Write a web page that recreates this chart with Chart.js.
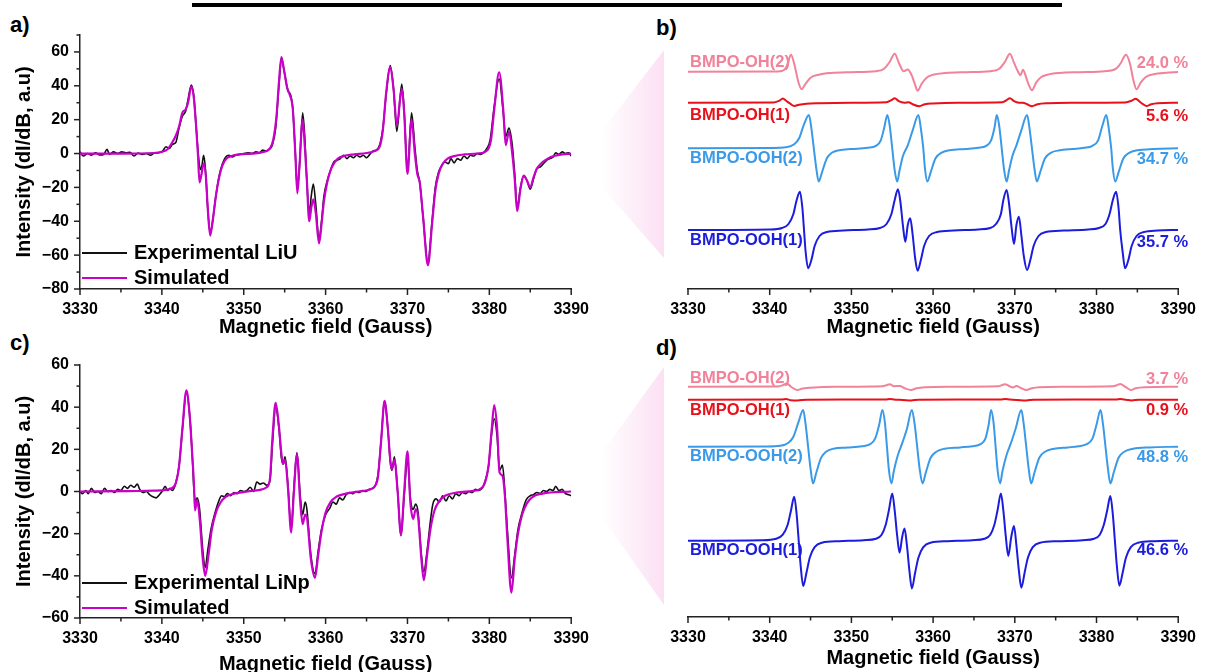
<!DOCTYPE html>
<html>
<head>
<meta charset="utf-8">
<script src="https://cdn.jsdelivr.net/npm/chart.js@4.4.1/dist/chart.umd.min.js"></script>
<style>
  html, body { margin:0; padding:0; background:#fff; width:1207px; height:672px; overflow:hidden; position:relative; font-family:"Liberation Sans", Arial, sans-serif; }
  canvas { position:absolute; }
  .lbl { position:absolute; font-weight:bold; font-size:22px; line-height:22px; color:#000; }
  .topline { position:absolute; left:192px; top:3px; width:870px; height:4px; background:#000; }
  .tri { position:absolute; background:linear-gradient(to right, #ffffff 0%, #fbe0f4 100%); }
</style>
</head>
<body>
<div class="topline"></div>
<div class="tri" id="triB" style="left:600px;top:50px;width:64px;height:208px;clip-path:polygon(0 40%, 100% 0, 100% 100%, 0 65%);"></div>
<div class="tri" id="triD" style="left:600px;top:367px;width:64px;height:238px;clip-path:polygon(0 37%, 100% 0, 100% 100%, 0 62%);"></div>
<div class="lbl" style="left:10px;top:14px;">a)</div>
<div class="lbl" style="left:656px;top:17px;">b)</div>
<div class="lbl" style="left:10px;top:332px;">c)</div>
<div class="lbl" style="left:656px;top:337px;">d)</div>
<canvas id="cA" width="600" height="345" style="left:0;top:0;"></canvas>
<canvas id="cB" width="607" height="345" style="left:600px;top:0;"></canvas>
<canvas id="cC" width="600" height="360" style="left:0;top:320px;"></canvas>
<canvas id="cD" width="607" height="352" style="left:600px;top:320px;"></canvas>
<script>
// ---------------- DATA ----------------
const fieldRange = [3330, 3390];
const yRangeA = [-80, 70];
const yRangeC = [-60, 60];

// Panel a : experimental LiU and simulated spectrum  [field (G), intensity]
const expLiU = [[3330,1],[3330.4,-1.5],[3330.9,0],[3331.4,-1],[3331.9,0.5],[3332.4,-0.8],[3332.9,-0.5],[3333.3,2.5],[3333.6,-0.5],[3334.1,1],[3334.6,0],[3335.1,1],[3335.6,0.5],[3336.1,0.8],[3336.6,-1.5],[3337.1,0.3],[3337.6,-0.5],[3338.1,0],[3338.6,-1],[3339.1,0.3],[3339.6,0.5],[3340.1,1.5],[3340.5,4],[3340.9,3],[3341.3,5.5],[3341.7,6.5],[3342.1,15],[3342.5,22],[3342.9,25],[3343.2,32],[3343.6,40.5],[3343.9,34],[3344.2,15],[3344.5,-3],[3344.7,-9.5],[3344.9,-7],[3345.1,-1],[3345.3,-8],[3345.6,-32],[3345.9,-47],[3346.2,-40],[3346.6,-25],[3347,-13],[3347.4,-6],[3347.8,-2],[3348.2,-1],[3348.6,-2],[3349,-1],[3349.5,-0.5],[3350,0],[3350.5,0.5],[3351,0],[3351.5,1],[3351.9,0.5],[3352.3,2],[3352.7,1.5],[3353.1,2.5],[3353.5,5],[3353.9,15],[3354.3,40],[3354.6,56],[3355,47],[3355.4,37],[3355.7,35],[3356,26],[3356.3,0],[3356.55,-20],[3356.8,-8],[3357.2,24],[3357.45,10],[3357.7,-15],[3358,-35],[3358.25,-25],[3358.5,-18],[3358.8,-30],[3359.2,-51],[3359.5,-40],[3359.8,-25],[3360.2,-16],[3360.6,-10],[3361,-5],[3361.4,-4],[3361.8,-3],[3362.2,-1],[3362.6,-3],[3363,-1.5],[3363.4,-2.5],[3363.8,-1],[3364.2,-2],[3364.6,-1],[3365,-2.5],[3365.4,-0.5],[3365.8,1.5],[3366.2,2],[3366.6,5],[3367,15],[3367.4,35],[3367.9,52],[3368.3,38],[3368.7,13],[3369.3,41],[3369.6,25],[3370,-10],[3370.5,24],[3370.9,4],[3371.2,-10],[3371.5,-17],[3371.9,-37],[3372.5,-64],[3373,-40],[3373.4,-20],[3373.8,-11],[3374.2,-7],[3374.6,-5],[3375,-6],[3375.3,-3],[3375.7,-5.5],[3376.1,-3],[3376.5,-4],[3376.9,-1.5],[3377.3,-3],[3377.7,-1],[3378.1,-1.5],[3378.5,0],[3378.9,-0.5],[3379.3,0.5],[3379.7,3],[3380.1,8],[3380.6,28],[3381.2,44],[3381.7,24],[3382,10],[3382.4,15],[3382.8,5],[3383.1,-12],[3383.4,-32],[3383.8,-20],[3384.2,-13],[3384.6,-16],[3385,-21],[3385.4,-15],[3385.8,-9],[3386.2,-8],[3386.6,-6],[3387,-4],[3387.4,-3],[3387.8,-2],[3388.1,0.5],[3388.5,-0.5],[3388.9,1],[3389.3,0],[3389.7,0.5],[3390,-1.5]];
const simLiU = [[3330,0],[3335,0],[3339,0.3],[3340,1],[3340.7,2.5],[3341.2,6],[3341.7,10.5],[3342.1,16],[3342.5,24],[3342.9,26],[3343.2,30],[3343.6,39.5],[3343.9,33],[3344.2,15],[3344.4,0],[3344.6,-17],[3344.85,-12],[3345.1,-6],[3345.4,-15],[3345.6,-32],[3345.9,-48.5],[3346.2,-40],[3346.6,-25],[3347,-14],[3347.4,-7],[3347.9,-3],[3348.5,-1.5],[3349.5,-0.5],[3351,0],[3352.5,1],[3353.2,3],[3353.6,8],[3354,22],[3354.3,42],[3354.6,57],[3354.9,50],[3355.3,39],[3355.6,35],[3356,26],[3356.3,0],[3356.55,-23.5],[3356.8,-8],[3357.2,20],[3357.45,5],[3357.7,-15],[3358,-40],[3358.25,-32],[3358.5,-27],[3358.8,-35],[3359.2,-53],[3359.5,-42],[3359.8,-28],[3360.2,-17],[3360.6,-10],[3361,-6],[3361.5,-3],[3362.2,-1.5],[3363.5,-0.5],[3365,0.3],[3366,1.5],[3366.6,4],[3367,14],[3367.4,36],[3367.9,51],[3368.3,38],[3368.7,17],[3369.3,38],[3369.6,24],[3370,-12],[3370.5,20],[3370.9,0],[3371.2,-12],[3371.5,-17],[3371.9,-37],[3372.5,-66],[3373,-42],[3373.4,-22],[3373.8,-12],[3374.3,-6],[3374.9,-3],[3375.7,-1.5],[3377,-0.5],[3378.5,0],[3379.4,0.8],[3379.9,3],[3380.2,8],[3380.6,26],[3381.2,48],[3381.7,26],[3382,5],[3382.4,13],[3382.8,0],[3383.1,-15],[3383.4,-34],[3383.8,-21],[3384.2,-13],[3384.6,-16],[3385,-20],[3385.4,-14],[3385.8,-9],[3386.3,-6],[3386.8,-4],[3387.5,-2],[3388.5,-0.8],[3390,0]];

// Panel c : experimental LiNp and simulated spectrum
const expLiNp = [[3330,0],[3330.3,-1],[3330.7,0.5],[3331,-1],[3331.4,1.5],[3331.8,-0.5],[3332.2,0],[3332.6,-1],[3333,1.5],[3333.4,0],[3333.8,0.5],[3334.2,-0.5],[3334.6,1],[3335,0.5],[3335.4,2.5],[3335.8,1.5],[3336.2,3],[3336.6,2],[3337,3.5],[3337.3,1],[3337.7,-0.5],[3338.1,0],[3338.5,-1.5],[3338.9,-2.5],[3339.3,-3],[3339.7,-1.5],[3340.1,0.5],[3340.4,2.5],[3340.7,0.5],[3341,1.5],[3341.3,0.5],[3341.7,4],[3342.1,12],[3342.5,29],[3343,47],[3343.4,36],[3343.7,18],[3343.9,2],[3344.1,-5],[3344.3,-3],[3344.6,-8],[3345,-28],[3345.3,-36],[3345.6,-28],[3346,-18],[3346.5,-10],[3347,-4],[3347.3,-2],[3347.6,-2.5],[3348,-1],[3348.4,-2],[3348.8,-0.5],[3349.2,-1],[3349.6,0.5],[3350,0],[3350.4,0.5],[3350.8,2],[3351.2,0],[3351.6,4.5],[3352,3.5],[3352.4,4],[3352.8,3],[3353.2,5],[3353.5,22],[3353.9,40],[3354.3,30],[3354.6,16],[3354.8,13],[3355.05,16.5],[3355.4,3],[3355.8,-18],[3356.1,0],[3356.5,18.5],[3356.9,-2],[3357.2,-11],[3357.5,-5],[3357.7,-8],[3358.2,-30],[3358.7,-39],[3359.1,-28],[3359.5,-18],[3360,-11],[3360.5,-8],[3360.9,-5],[3361.3,-6],[3361.7,-3],[3362.1,-4],[3362.5,-1.5],[3362.9,-0.5],[3363.3,-1],[3363.7,0],[3364.1,-0.5],[3364.5,0.5],[3364.9,0],[3365.3,1],[3365.7,1.5],[3366.1,3],[3366.4,8],[3366.8,25],[3367.2,43],[3367.6,30],[3367.9,14],[3368.1,10],[3368.4,16.5],[3368.8,0],[3369.2,-21],[3369.6,-2],[3370,15.5],[3370.35,-3],[3370.7,-8.5],[3371,-6],[3371.3,-10],[3371.7,-30],[3372,-38],[3372.4,-28],[3372.8,-14],[3373.1,-6],[3373.5,-3.5],[3373.9,-5],[3374.3,-2],[3374.7,-4.5],[3375.1,-2],[3375.5,-3.5],[3375.9,-1],[3376.3,-2],[3376.7,-0.5],[3377.1,-1],[3377.5,0],[3377.9,-0.5],[3378.3,1],[3378.7,0.5],[3379.1,1.5],[3379.4,4],[3379.9,12],[3380.3,28],[3380.6,34.5],[3380.95,26],[3381.25,10],[3381.6,12.5],[3381.9,0],[3382.2,-18],[3382.7,-41],[3383.1,-30],[3383.5,-18],[3384,-10],[3384.5,-4],[3385,-2],[3385.4,-1.5],[3385.8,-0.5],[3386.2,-1],[3386.6,0.5],[3387,0],[3387.4,1],[3387.8,0.5],[3388.1,2.5],[3388.5,0.5],[3388.9,1],[3389.3,-1],[3389.7,-1.5],[3390,-2]];
const simLiNp = [[3330,0],[3336,0.2],[3339,0.4],[3340.5,0.8],[3341.2,1.5],[3341.7,4],[3342.1,12],[3342.5,29.5],[3343,48],[3343.4,36],[3343.7,18],[3343.9,5],[3344.05,-9],[3344.3,-4],[3344.6,-12],[3345,-32],[3345.3,-40],[3345.7,-30],[3346.1,-18],[3346.6,-10],[3347.2,-5],[3347.8,-2.5],[3348.8,-1],[3350.5,0],[3352,0.8],[3352.8,2],[3353.2,6],[3353.5,25],[3353.9,42],[3354.3,31],[3354.6,18],[3354.8,13],[3355.05,15],[3355.4,2],[3355.8,-19.5],[3356.1,-2],[3356.5,17.5],[3356.9,-5],[3357.2,-15.5],[3357.5,-11],[3357.7,-12],[3358.2,-32],[3358.7,-41],[3359.1,-30],[3359.5,-19],[3360,-10],[3360.6,-5],[3361.3,-2.5],[3362.5,-1],[3364,0],[3365.3,0.8],[3366,2.5],[3366.4,7],[3366.8,25],[3367.2,43],[3367.6,30],[3367.9,15],[3368.1,10.5],[3368.4,15],[3368.8,0],[3369.2,-20.5],[3369.6,0],[3370,19],[3370.35,-5],[3370.7,-13],[3371,-8.5],[3371.3,-12],[3371.7,-32],[3372,-42],[3372.4,-30],[3372.8,-18],[3373.3,-9],[3373.9,-4.5],[3374.6,-2],[3376,-0.5],[3378,0.3],[3378.8,1],[3379.4,3.5],[3379.9,12],[3380.3,30],[3380.6,41],[3380.95,30],[3381.25,9],[3381.6,7.5],[3381.9,-2],[3382.2,-22],[3382.7,-48],[3383.1,-32],[3383.5,-20],[3384,-11],[3384.6,-5.5],[3385.3,-2.5],[3386.5,-1],[3390,0]];

// Panel b : simulated components (stacked with offsets)
const namesB = ['BMPO-OH(2)', 'BMPO-OH(1)', 'BMPO-OOH(2)', 'BMPO-OOH(1)'];
const percentB = ['24.0 %', '5.6 %', '34.7 %', '35.7 %'];
const offsetsB = [217.3, 186.3, 140.7, 59];
const ohB2 = [[3330,0],[3341,0.3],[3341.8,2],[3342.2,8],[3342.6,17],[3343,8],[3343.5,-10],[3343.9,-17.5],[3344.4,-12],[3345,-6],[3346,-3],[3347.5,-1.3],[3350,-0.5],[3353,0.5],[3354,3],[3354.7,10],[3355.3,18],[3355.8,9],[3356.4,0.5],[3356.9,2.3],[3357.4,-4],[3357.75,-12],[3358.1,-19],[3358.6,-12],[3359.2,-6],[3360,-3],[3361.5,-1.3],[3364,-0.5],[3367,0.5],[3368.1,3],[3368.8,10],[3369.4,18],[3369.9,9],[3370.4,0],[3370.7,-3.5],[3371,2],[3371.4,-6],[3371.7,-13],[3372.1,-18.5],[3372.6,-11],[3373.2,-5.5],[3374,-3],[3375.5,-1.3],[3378,-0.5],[3381,0.5],[3382.4,3],[3383,9],[3383.6,17],[3384.1,8],[3384.5,-8],[3384.9,-17.5],[3385.4,-11],[3386,-5.5],[3387,-2.5],[3388.5,-1],[3390,-0.3]];
const ohB1 = [[3330,0],[3340.5,0.3],[3341.2,2],[3341.6,4.3],[3342,2],[3342.5,-1],[3343,-3.3],[3343.6,-2],[3344.5,-1],[3346,-0.5],[3350,0],[3354.3,0.5],[3354.9,2.5],[3355.3,4.5],[3355.8,1.5],[3356.5,0],[3357,0.5],[3357.5,-1.5],[3358.3,-3.5],[3359,-1.5],[3360,-0.7],[3363,0],[3368.5,0.5],[3369,2.5],[3369.4,4.5],[3369.9,1.5],[3370.5,0],[3371,0],[3371.5,-1.5],[3372.1,-3.5],[3372.8,-1.5],[3374,-0.5],[3377,0],[3383.5,0.3],[3384.3,2],[3384.8,4],[3385.3,1],[3385.7,-1.5],[3386.1,-3.3],[3386.7,-1.5],[3387.5,-0.5],[3390,0]];
const oohB2 = [[3330,0],[3340,0.3],[3342,1],[3343,4],[3343.6,10],[3344.2,24],[3344.8,33.3],[3345.1,20],[3345.4,0],[3345.7,-20],[3346,-33.3],[3346.4,-24],[3347,-10],[3347.6,-4.5],[3348.5,-2],[3350,-0.8],[3352,0.5],[3353,2.5],[3353.6,8],[3354,20],[3354.4,33.3],[3354.7,22],[3355,0],[3355.3,-22],[3355.6,-33.3],[3355.9,-22],[3356.3,-8],[3356.9,3],[3357.5,18],[3358.2,33.3],[3358.5,20],[3358.8,0],[3359,-20],[3359.3,-33.3],[3359.7,-24],[3360.3,-10],[3361,-4.5],[3362,-2],[3364,-0.7],[3365.5,0.5],[3366.5,2.5],[3367.1,8],[3367.5,20],[3367.8,33.3],[3368.1,22],[3368.4,0],[3368.7,-22],[3369,-33.3],[3369.3,-22],[3369.7,-8],[3370.2,3],[3370.8,18],[3371.5,33.3],[3371.8,20],[3372.1,0],[3372.4,-20],[3372.7,-33.3],[3373.1,-24],[3373.7,-10],[3374.4,-4.5],[3375.5,-2],[3377,-0.7],[3378.5,0.5],[3379.5,2.5],[3380.2,8],[3380.7,22],[3381.2,33.3],[3381.5,20],[3381.8,0],[3382,-20],[3382.3,-33.3],[3382.7,-24],[3383.3,-10],[3384,-4.5],[3385,-2],[3387,-0.7],[3390,0]];
const oohB1 = [[3330,0],[3340,0.5],[3341.5,2],[3342.3,6],[3342.9,16],[3343.3,30],[3343.7,38.3],[3344,22],[3344.2,0],[3344.4,-22],[3344.7,-38.3],[3345.1,-30],[3345.5,-16],[3346.1,-6],[3347,-2],[3349,-0.5],[3352,0.5],[3353.5,2],[3354.3,6],[3354.9,16],[3355.3,30],[3355.7,40.7],[3356,28],[3356.3,5],[3356.6,-11.7],[3356.9,5],[3357.2,11.7],[3357.5,-5],[3357.8,-28],[3358.1,-40.7],[3358.5,-30],[3358.9,-16],[3359.5,-6],[3360.5,-2],[3362.5,-0.5],[3365.5,0.5],[3367,2],[3367.7,6],[3368.3,16],[3368.6,30],[3369,40],[3369.3,26],[3369.6,3],[3369.9,-14],[3370.2,5],[3370.5,13.3],[3370.8,-5],[3371.1,-26],[3371.5,-40],[3371.9,-30],[3372.3,-16],[3372.9,-6],[3373.8,-2],[3376,-0.5],[3379,0.5],[3380.3,2],[3381.1,6],[3381.6,16],[3382,30],[3382.4,38.3],[3382.7,22],[3382.9,0],[3383.2,-22],[3383.5,-38.3],[3383.9,-30],[3384.3,-16],[3384.9,-6],[3385.8,-2],[3387.5,-0.5],[3390,0]];

// Panel d : simulated components (stacked with offsets)
const namesD = ['BMPO-OH(2)', 'BMPO-OH(1)', 'BMPO-OOH(2)', 'BMPO-OOH(1)'];
const percentD = ['3.7 %', '0.9 %', '48.8 %', '46.6 %'];
const offsetsD = [230.3, 217.3, 170.3, 76.3];
const ohD2 = [[3330,0],[3341,0.3],[3341.6,1.5],[3342.1,3.3],[3342.6,0],[3343.1,-2.5],[3343.4,-3.3],[3343.9,-2],[3345,-1],[3348,0],[3353.8,0.5],[3354.3,1.5],[3354.7,2.5],[3355.2,0.5],[3355.9,0.7],[3356.5,-1.5],[3357.3,-3.3],[3358,-1.5],[3359,-0.5],[3362,0],[3368,0.5],[3368.4,1.5],[3368.8,2.5],[3369.4,0.3],[3369.8,-0.7],[3370.2,0.7],[3370.8,-1.5],[3371.4,-3.3],[3372.1,-1.5],[3373,-0.5],[3376,0],[3382,0.5],[3382.5,1.5],[3382.9,2.7],[3383.5,0],[3384.2,-3.3],[3384.8,-1.5],[3386,-0.5],[3390,0]];
const ohD1 = [[3330,0],[3341.5,0.3],[3342,0.7],[3342.6,-0.5],[3343.4,-0.7],[3344.5,0],[3354.2,0.2],[3354.7,0.6],[3355.2,0.3],[3357.3,-0.8],[3358.2,0],[3368.3,0.2],[3368.8,0.7],[3369.4,0.2],[3371.4,-0.8],[3372.3,0],[3382.4,0.2],[3382.9,0.7],[3383.6,0],[3384.3,-0.8],[3385.2,0],[3390,0]];
const oohD2 = [[3330,0],[3339.5,0.3],[3341.3,1],[3342.3,4],[3342.9,10],[3343.5,24],[3344.1,36.7],[3344.4,22],[3344.7,0],[3345,-22],[3345.3,-36.7],[3345.7,-26],[3346.3,-11],[3346.9,-5],[3347.8,-2],[3349.5,-0.8],[3351.3,0.5],[3352.3,2.5],[3352.9,8],[3353.4,22],[3353.8,36.7],[3354.1,24],[3354.35,0],[3354.6,-24],[3354.9,-36.7],[3355.2,-24],[3355.7,-8],[3356.2,3],[3356.8,18],[3357.4,36.7],[3357.75,22],[3358.05,0],[3358.35,-22],[3358.7,-36.7],[3359.1,-26],[3359.7,-11],[3360.4,-5],[3361.4,-2],[3363.3,-0.7],[3364.8,0.5],[3365.8,2.5],[3366.4,8],[3366.8,22],[3367.1,36.7],[3367.4,24],[3367.65,0],[3367.9,-24],[3368.2,-36.7],[3368.5,-24],[3369,-8],[3369.5,3],[3370.1,18],[3370.8,36.7],[3371.1,22],[3371.4,0],[3371.7,-22],[3372,-36.7],[3372.4,-26],[3373,-11],[3373.7,-5],[3374.8,-2],[3376.5,-0.7],[3377.8,0.5],[3378.8,2.5],[3379.5,8],[3380,22],[3380.5,36.7],[3380.8,22],[3381.1,0],[3381.4,-22],[3381.7,-36.7],[3382.1,-26],[3382.7,-11],[3383.4,-5],[3384.5,-2],[3386.5,-0.7],[3390,0]];
const oohD1 = [[3330,0],[3339,0.5],[3340.8,2],[3341.6,6],[3342.2,16],[3342.6,30],[3343,44],[3343.3,26],[3343.55,0],[3343.8,-26],[3344.1,-45.3],[3344.5,-32],[3344.9,-17],[3345.5,-6.5],[3346.4,-2],[3348.5,-0.5],[3351.5,0.5],[3353,2],[3353.7,6],[3354.2,16],[3354.6,31],[3355,47.3],[3355.3,30],[3355.6,5],[3355.9,-12],[3356.2,3],[3356.5,12.3],[3356.8,-5],[3357.1,-30],[3357.4,-47.7],[3357.8,-32],[3358.2,-17],[3358.8,-6.5],[3359.7,-2],[3361.8,-0.5],[3364.8,0.5],[3366.3,2],[3367,6],[3367.5,16],[3367.9,31],[3368.3,47.3],[3368.6,30],[3368.9,4],[3369.2,-15.3],[3369.55,3],[3369.9,14.7],[3370.2,-5],[3370.5,-30],[3370.8,-47],[3371.2,-32],[3371.6,-17],[3372.2,-6.5],[3373.1,-2],[3375.3,-0.5],[3378.3,0.5],[3379.7,2],[3380.4,6],[3380.9,16],[3381.3,30],[3381.7,44.7],[3382,26],[3382.25,0],[3382.5,-26],[3382.8,-45],[3383.2,-32],[3383.6,-17],[3384.2,-6.5],[3385.1,-2],[3387,-0.5],[3390,0]];

// ---------------- STYLE ----------------
const FONT = '"Liberation Sans", Arial, sans-serif';
const componentColors = ['#f0829a', '#e8101a', '#3a9ae8', '#1c1cdc'];
const AXIS = '#222';

Chart.defaults.font.family = FONT;
Chart.defaults.color = '#000';

const toXY = (arr, off) => arr.map(p => ({ x: p[0], y: p[1] + (off || 0) }));
const minus = v => (v < 0 ? '\u2212' + Math.abs(v) : String(v));

// Origin-style outward major/minor ticks
const originTicks = {
  id: 'originTicks',
  afterDraw(chart, args, opts) {
    const ctx = chart.ctx;
    ctx.save();
    ctx.strokeStyle = AXIS; ctx.lineWidth = 1.5;
    (opts.axes || []).forEach(ax => {
      const s = chart.scales[ax.id];
      const n = Math.round((s.max - s.min) / ax.minor);
      for (let i = 0; i <= n; i++) {
        const v = s.min + i * ax.minor;
        const r = (v - ax.base) / ax.major;
        const major = Math.abs(r - Math.round(r)) < 1e-6;
        const len = major ? 6 : 3.5;
        const p = s.getPixelForValue(v);
        ctx.beginPath();
        if (s.isHorizontal()) { ctx.moveTo(p, s.top); ctx.lineTo(p, s.top + len); }
        else { ctx.moveTo(s.right, p); ctx.lineTo(s.right - len, p); }
        ctx.stroke();
      }
    });
    ctx.restore();
  }
};

// legend drawn in the lower-left corner of the plot
const cornerLegend = {
  id: 'cornerLegend',
  afterDraw(chart, args, opts) {
    if (!opts.rows) return;
    const { ctx, chartArea } = chart;
    ctx.save();
    ctx.font = 'bold 20px ' + FONT;
    ctx.textBaseline = 'middle'; ctx.textAlign = 'left';
    opts.rows.forEach(r => {
      const ds = chart.data.datasets[r.index];
      const y = chartArea.bottom - r.dy;
      ctx.strokeStyle = ds.borderColor; ctx.lineWidth = 2;
      ctx.beginPath(); ctx.moveTo(chartArea.left + 2, y); ctx.lineTo(chartArea.left + 47, y); ctx.stroke();
      ctx.fillStyle = '#000';
      ctx.fillText(ds.label, chartArea.left + 54, y);
    });
    ctx.restore();
  }
};

// name / percentage labels next to each stacked component
const componentLabels = {
  id: 'componentLabels',
  afterDatasetsDraw(chart, args, opts) {
    if (!opts.items) return;
    const { ctx, chartArea } = chart;
    const ys = chart.scales.y;
    ctx.save();
    ctx.font = 'bold 16.5px ' + FONT;
    ctx.textBaseline = 'middle';
    opts.items.forEach(it => {
      const base = ys.getPixelForValue(it.offset);
      ctx.fillStyle = it.color;
      ctx.textAlign = 'left';
      ctx.fillText(it.name, chartArea.left + 2, base + it.nameDy);
      ctx.textAlign = 'right';
      ctx.fillText(it.pct, chartArea.right + 10, base + it.pctDy);
    });
    ctx.restore();
  }
};

function xScale(titleBottomPad, height) {
  return {
    type: 'linear', min: fieldRange[0], max: fieldRange[1],
    grid: { display: false, drawTicks: false },
    border: { display: true, color: AXIS, width: 1.5 },
    ticks: { stepSize: 10, padding: 11, maxRotation: 0, autoSkip: false,
             font: { size: 16, weight: 'bold' }, color: '#000', callback: v => String(v) },
    title: { display: true, text: 'Magnetic field (Gauss)', color: '#000',
             font: { size: 20, weight: 'bold' }, padding: { top: 0, bottom: titleBottomPad } },
    afterFit: s => { s.height = height; }
  };
}
function yScale(range) {
  return {
    type: 'linear', min: range[0], max: range[1],
    grid: { display: false, drawTicks: false },
    border: { display: true, color: AXIS, width: 1.5 },
    ticks: { stepSize: 20, includeBounds: false, padding: 11,
             font: { size: 16, weight: 'bold' }, color: '#000', callback: minus },
    title: { display: true, text: 'Intensity (dI/dB, a.u)', color: '#000',
             font: { size: 20, weight: 'bold' }, padding: { top: 12, bottom: 0 } },
    afterFit: s => { s.width = 80; }
  };
}
const lineDefaults = { pointRadius: 0, fill: false, cubicInterpolationMode: 'monotone' };

function spectrumChart(id, expSeries, simSeries, expLabel, yRange, pad, xHeight, titlePad, legendDy) {
  return new Chart(document.getElementById(id), {
    type: 'line',
    data: { datasets: [
      Object.assign({ label: expLabel, data: toXY(expSeries), borderColor: '#111', borderWidth: 1.6, order: 1 }, lineDefaults),
      Object.assign({ label: 'Simulated', data: toXY(simSeries), borderColor: '#c800c8', borderWidth: 2.2, order: 0 }, lineDefaults)
    ]},
    options: {
      responsive: false, animation: false, devicePixelRatio: 1,
      layout: { padding: pad },
      plugins: { legend: { display: false }, tooltip: { enabled: false },
        originTicks: { axes: [ { id: 'x', minor: 5, major: 10, base: 3330 }, { id: 'y', minor: 10, major: 20, base: 0 } ] },
        cornerLegend: { rows: [ { index: 0, dy: legendDy[0] }, { index: 1, dy: legendDy[1] } ] } },
      scales: { x: xScale(titlePad, xHeight), y: yScale(yRange) }
    },
    plugins: [originTicks, cornerLegend]
  });
}

function componentChart(id, series, names, pcts, offsets, yMax, pad, xHeight, titlePad, nameDy, pctDy) {
  return new Chart(document.getElementById(id), {
    type: 'line',
    data: { datasets: series.map((s, i) => Object.assign({
      label: names[i], data: toXY(s, offsets[i]), borderColor: componentColors[i], borderWidth: 2
    }, lineDefaults)) },
    options: {
      responsive: false, animation: false, devicePixelRatio: 1,
      layout: { padding: pad },
      plugins: { legend: { display: false }, tooltip: { enabled: false },
        originTicks: { axes: [ { id: 'x', minor: 5, major: 10, base: 3330 } ] },
        componentLabels: { items: names.map((n, i) => ({ name: n, pct: pcts[i], offset: offsets[i], color: componentColors[i], nameDy: nameDy[i], pctDy: pctDy[i] })) } },
      scales: { x: xScale(titlePad, xHeight), y: { display: false, min: 0, max: yMax } }
    },
    plugins: [originTicks, componentLabels]
  });
}

spectrumChart('cA', expLiU, simLiU, 'Experimental LiU', yRangeA, { top: 35, right: 22, left: 0, bottom: 0 }, 56, 6, [36, 11]);
spectrumChart('cC', expLiNp, simLiNp, 'Experimental LiNp', yRangeC, { top: 45, right: 22, left: 0, bottom: 0 }, 62, 4, [35, 10]);
componentChart('cB', [ohB2, ohB1, oohB2, oohB1], namesB, percentB, offsetsB, 249, { top: 40, right: 25, left: 88, bottom: 0 }, 56, 6, [-9, 12.3, 9.7, 10], [-8.4, 13.3, 11, 12.3]);
componentChart('cD', [ohD2, ohD1, oohD2, oohD1], namesD, percentD, offsetsD, 257, { top: 40, right: 25, left: 88, bottom: 0 }, 55, 2, [-8.4, 11, 10, 9.3], [-7.7, 11, 10.6, 10]);
</script>
</body>
</html>
